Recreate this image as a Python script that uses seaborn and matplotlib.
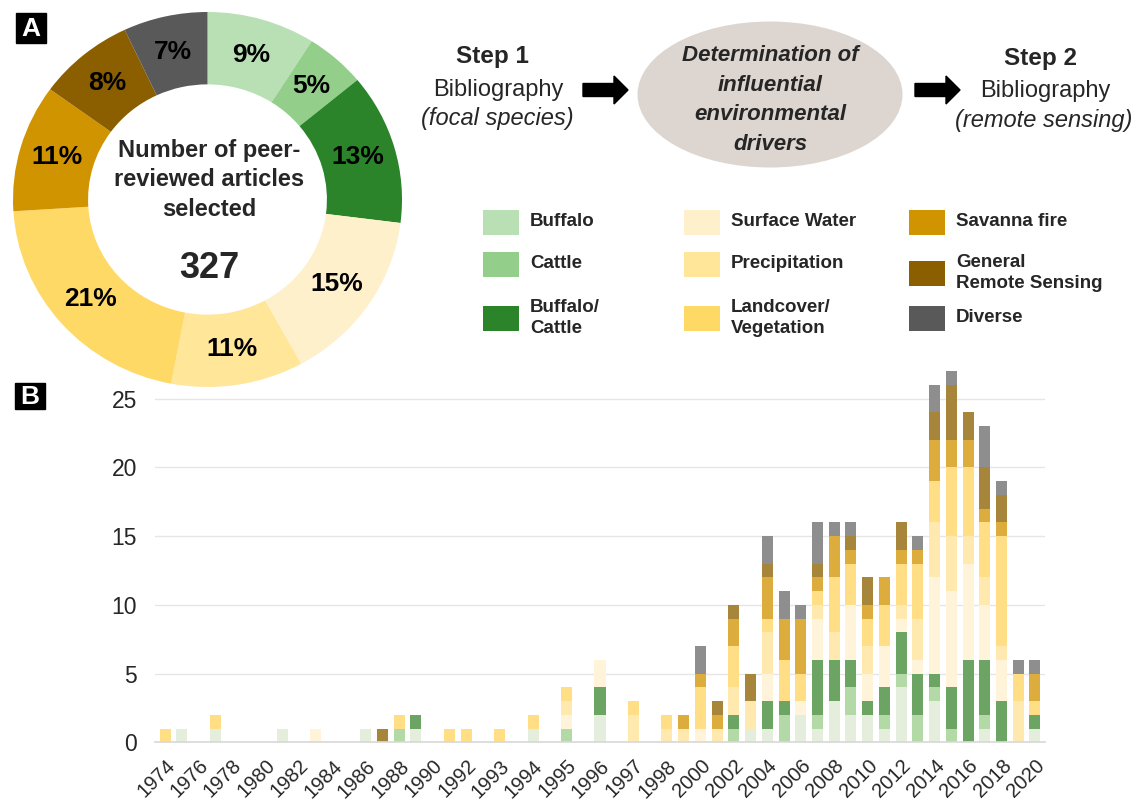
import numpy as np
import matplotlib
matplotlib.use("Agg")
import matplotlib.pyplot as plt
import matplotlib.transforms as mtransforms
import seaborn as sns
from matplotlib.patches import Ellipse, FancyArrow, Rectangle

sns.set_theme(style="white")
plt.rcParams["font.family"] = ["Liberation Sans", "DejaVu Sans"]

# ---- data -------------------------------------------------------------
categories = ["Buffalo", "Cattle", "Buffalo/\nCattle",
              "Surface Water", "Precipitation", "Landcover/\nVegetation",
              "Savanna fire", "General\nRemote Sensing", "Diverse"]
shares = [9, 5, 13, 15, 11, 21, 11, 8, 7]
total_articles = 327

pie_colors = ["#b8e0b4", "#93cf8a", "#2b8429", "#fff0cc", "#ffe699",
              "#ffd966", "#d09400", "#8b5e00", "#595959"]
bar_colors = ["#e5eedd", "#b3d9a6", "#6ba463", "#fff4da", "#ffe9ae",
              "#ffde85", "#dcad3c", "#a7863c", "#8e8e8e"]

tick_labels = ["1974", "1976", "1978", "1980", "1982", "1984", "1986",
               "1988", "1990", "1992", "1993", "1994", "1995", "1996",
               "1997", "1998", "2000", "2002", "2004", "2006", "2008",
               "2010", "2012", "2014", "2016", "2018", "2020"]

# one value per bar (53 bars, a label under every second one)
buffalo =      [0,1,0,1,0,0,0,1,0,0, 0,0,1,0,0,1,0,0,0,0, 0,0,1,0,0,0,2,0,0,0,
                0,0,0,0,0,1,1,0,2,1, 3,2,2,1,4,0,3,0,0,1, 0,0,1]
cattle =       [0,0,0,0,0,0,0,0,0,0, 0,0,0,0,1,0,0,0,0,0, 0,0,0,0,1,0,0,0,0,0,
                0,0,0,0,1,0,0,2,0,1, 0,2,0,1,1,2,1,1,0,1, 0,0,0]
buff_cattle =  [0,0,0,0,0,0,0,0,0,0, 0,0,0,0,0,1,0,0,0,0, 0,0,0,0,0,0,2,0,0,0,
                0,0,0,0,1,0,2,1,0,4, 3,2,1,2,3,3,1,3,6,4, 3,0,1]
surface_water= [0,0,0,0,0,0,0,0,0,1, 0,0,0,0,0,0,0,0,0,0, 0,0,0,0,1,0,2,0,0,0,
                0,0,1,0,0,0,2,0,1,3, 0,4,2,3,1,1,7,7,7,4, 3,0,0]
precipitation= [0,0,0,0,0,0,0,0,0,0, 0,0,0,0,0,0,0,0,0,0, 0,0,0,0,1,0,0,0,2,0,
                1,1,0,1,2,2,3,0,0,1, 2,0,2,0,1,3,4,4,2,2, 1,3,0]
landcover =    [1,0,0,1,0,0,0,0,0,0, 0,0,0,0,1,0,0,1,1,0, 1,0,1,0,1,0,0,0,1,0,
                1,0,3,0,3,0,1,3,2,1, 4,3,2,3,3,4,3,5,5,4, 8,2,1]
savanna_fire = [0,0,0,0,0,0,0,0,0,0, 0,0,0,0,0,0,0,0,0,0, 0,0,0,0,0,0,0,0,0,0,
                0,1,1,1,2,0,3,3,4,1, 3,1,1,2,1,1,3,2,2,1, 1,0,2]
general_rs =   [0,0,0,0,0,0,0,0,0,0, 0,0,0,1,0,0,0,0,0,0, 0,0,0,0,0,0,0,0,0,0,
                0,0,0,1,1,2,1,0,0,1, 0,1,2,0,2,0,2,4,2,3, 2,0,0]
diverse =      [0,0,0,0,0,0,0,0,0,0, 0,0,0,0,0,0,0,0,0,0, 0,0,0,0,0,0,0,0,0,0,
                0,0,2,0,0,0,2,2,1,3, 1,1,0,0,0,1,2,1,0,3, 1,1,1]

series = [buffalo, cattle, buff_cattle, surface_water, precipitation,
          landcover, savanna_fire, general_rs, diverse]

# ---- figure -------------------------------------------------------------
W, H = 1137, 802
fig = plt.figure(figsize=(W / 100, H / 100), dpi=100)


def px_axes(x0, y0, x1, y1):
    return fig.add_axes([x0 / W, 1 - y1 / H, (x1 - x0) / W, (y1 - y0) / H])


# panel B: stacked bars
ax = px_axes(155, 364.4, 1045, 742.3)
pos = np.arange(len(buffalo))
bottom = np.zeros(len(pos))
for vals, col in zip(series, bar_colors):
    vals = np.array(vals, dtype=float)
    ax.bar(pos, vals, bottom=bottom, width=0.66, color=col, linewidth=0, zorder=2)
    bottom += vals

ax.set_xlim(-0.6, 52.6)
ax.set_ylim(0, 27.5)
ax.set_yticks([0, 5, 10, 15, 20, 25])
ax.yaxis.grid(True, color="#e6e6e6", linewidth=1)
ax.set_axisbelow(True)
sns.despine(ax=ax, left=True)
ax.spines["bottom"].set_color("#d9d9d9")
ax.set_xticks(pos[::2])
ax.set_xticklabels(tick_labels, rotation=45, ha="right", va="top",
                   rotation_mode="anchor", fontsize=14.5)
shift = mtransforms.ScaledTranslation(-4 / 100, 0, fig.dpi_scale_trans)
for lbl in ax.get_xticklabels():
    lbl.set_transform(lbl.get_transform() + shift)
ax.tick_params(axis="x", length=0, pad=10)
ax.tick_params(axis="y", length=0, pad=13, labelsize=16.5)
ax.set_facecolor("none")

# panel A: donut (slightly wider than tall, as in the source image)
ax_pie = px_axes(13, 12, 402, 387)
ax_pie.pie(shares, colors=pie_colors, startangle=90, counterclock=False,
           radius=1.0, wedgeprops=dict(width=0.386, linewidth=0),
           autopct="%1.0f%%", pctdistance=0.805,
           textprops=dict(fontsize=19, fontweight="bold", color="black"))
ax_pie.set_xlim(-1, 1)
ax_pie.set_ylim(-1, 1)
ax_pie.set_aspect("auto")
ax_pie.axis("off")

# overlay in pixel coordinates for the diagram, legend and labels
ov = fig.add_axes([0, 0, 1, 1], facecolor="none")
ov.set_xlim(0, W)
ov.set_ylim(H, 0)
ov.axis("off")

ov.text(209, 180, "Number of peer-\nreviewed articles\nselected", ha="center",
        va="center", fontsize=17, fontweight="bold", linespacing=1.38)
ov.text(209, 268, str(total_articles), ha="center", va="center",
        fontsize=26, fontweight="bold")

for lab, (cx, cy, h) in [("A", (31, 28, 30)), ("B", (30, 396, 26))]:
    ov.add_patch(Rectangle((cx - 15, cy - h / 2), 30, h, color="black"))
    ov.text(cx, cy + 1, lab, ha="center", va="center", color="white",
            fontsize=19, fontweight="bold")

# flow diagram
ov.text(492, 57, "Step 1", ha="center", va="center", fontsize=17.5, fontweight="bold")
ov.text(498, 90, "Bibliography", ha="center", va="center", fontsize=17)
ov.text(497, 118, "(focal species)", ha="center", va="center", fontsize=17, style="italic")
ov.add_patch(FancyArrow(583, 90, 45, 0, width=13, head_width=28, head_length=14,
                        length_includes_head=True, color="black"))
ov.add_patch(Ellipse((770, 94.5), 265, 146, facecolor="#ddd5cf", edgecolor="none"))
ov.text(770, 100, "Determination of\ninfluential\nenvironmental\ndrivers", ha="center",
        va="center", fontsize=16, fontweight="bold", style="italic", linespacing=1.55)
ov.add_patch(FancyArrow(915, 90, 45, 0, width=13, head_width=28, head_length=14,
                        length_includes_head=True, color="black"))
ov.text(1040, 58, "Step 2", ha="center", va="center", fontsize=17.5, fontweight="bold")
ov.text(1045, 91, "Bibliography", ha="center", va="center", fontsize=17)
ov.text(1044, 121, "(remote sensing)", ha="center", va="center", fontsize=17, style="italic")

# legend
col_x = [483, 684, 909]
row_y = [222, 264, 318]
for i, (lab, col) in enumerate(zip(categories, pie_colors)):
    c, r = i // 3, i % 3
    x, y = col_x[c], row_y[r]
    if lab.startswith("General"):
        y = 273
    ov.add_patch(Rectangle((x, y - 12.5), 36, 25, facecolor=col, edgecolor="none"))
    ov.text(x + 47, y, lab, ha="left", va="center", fontsize=13.5,
            fontweight="bold", linespacing=1.3)

fig.savefig("out.png", dpi=100)
